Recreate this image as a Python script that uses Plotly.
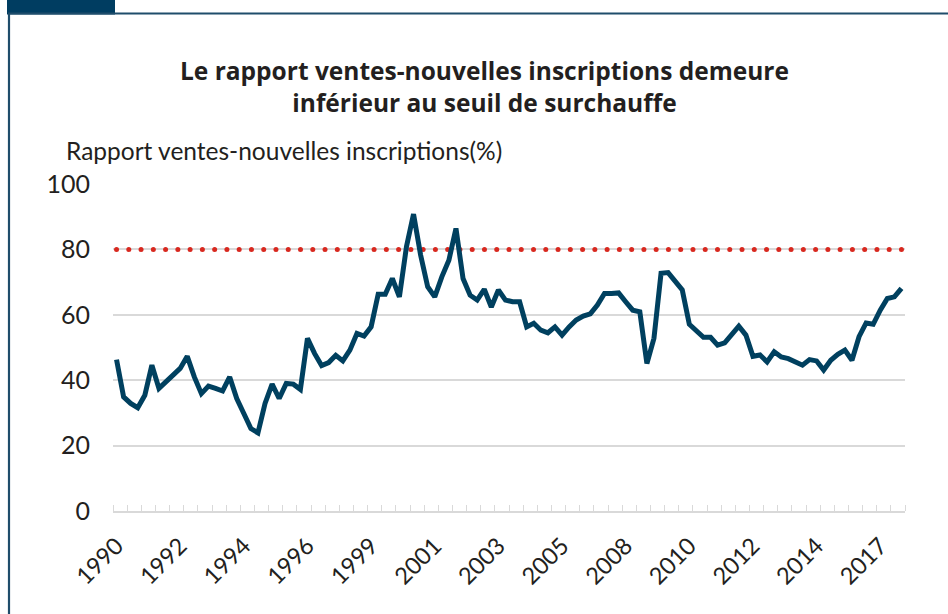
import numpy as np
import plotly.graph_objects as go

# ---- data -------------------------------------------------------------
quarters = [f"{1990 + i // 4}T{i % 4 + 1}" for i in range(112)]
ratio = [
    46.3, 34.9, 32.9, 31.6, 35.4, 44.6, 37.5, 39.5, 41.5, 43.6,
    47.3, 41.0, 35.9, 38.2, 37.5, 36.7, 41.0, 34.4, 29.8, 25.2,
    23.9, 32.9, 38.8, 34.4, 39.0, 38.8, 37.2, 52.8, 48.2, 44.5,
    45.4, 47.6, 45.9, 49.2, 54.3, 53.5, 56.3, 66.3, 66.3, 71.1,
    65.5, 80.8, 90.8, 78.3, 68.6, 65.5, 71.6, 76.7, 86.4, 71.1,
    66.0, 64.5, 67.8, 62.4, 67.6, 64.5, 64.0, 64.0, 56.3, 57.4,
    55.3, 54.5, 56.3, 53.8, 56.3, 58.4, 59.6, 60.3, 63.0, 66.5,
    66.5, 66.7, 64.0, 61.4, 60.9, 45.1, 52.8, 72.7, 72.9, 70.1,
    67.6, 57.1, 55.3, 53.1, 53.1, 50.7, 51.4, 53.8, 56.5, 53.8,
    47.3, 47.7, 45.6, 48.7, 47.1, 46.6, 45.6, 44.6, 46.3, 45.9,
    43.1, 46.1, 47.9, 49.2, 46.1, 53.3, 57.5, 57.1, 61.4, 65.0,
    65.5, 68.1,
]
threshold = 80
tick_labels = ["1990", "1992", "1994", "1996", "1999", "2001", "2003",
               "2005", "2008", "2010", "2012", "2014", "2017"]
label_every = 9
y_ticks = [0, 20, 40, 60, 80, 100]

title = "Le rapport ventes-nouvelles inscriptions demeure<br>inférieur au seuil de surchauffe"
y_title = "Rapport ventes-nouvelles inscriptions(%)"

# ---- figure -----------------------------------------------------------
W, H = 948, 614
L, R, T, B = 113, 43, 184, 103
FONT = "Lato"
TXT = "#231f20"
GRID = "#d9d9d9"
NAVY = "#00405f"

xi = list(range(len(quarters)))

fig = go.Figure()

# threshold dotted line
n_dots = 65
dot_x = np.linspace(0, len(quarters) - 1, n_dots)
fig.add_trace(go.Scatter(
    x=dot_x, y=[threshold] * n_dots, mode="markers",
    marker=dict(color="#d8281f", size=5, line=dict(width=0)),
    hoverinfo="skip", showlegend=False,
))

fig.add_trace(go.Scatter(
    x=xi, y=ratio, mode="lines", customdata=quarters,
    hovertemplate="%{customdata}: %{y:.1f}%<extra></extra>",
    line=dict(color=NAVY, width=5),
    showlegend=False,
))

tickvals = xi[::label_every][:len(tick_labels)]

fig.update_xaxes(
    range=[-0.5, len(quarters) - 0.5],
    tickmode="array", tickvals=tickvals, ticktext=tick_labels,
    tickangle=-45, ticks="", showgrid=False, zeroline=False,
    showline=True, linecolor=GRID, linewidth=1.5,
    ticklabelstandoff=10,
    tickfont=dict(family=FONT, size=23.5, color=TXT),
    minor=dict(tickmode="array",
               tickvals=[v - 0.5 for v in xi[::2]] + [len(quarters) - 0.5],
               ticks="inside", ticklen=6, tickcolor=GRID, tickwidth=1.3,
               showgrid=False),
    fixedrange=True,
)
fig.update_yaxes(
    range=[0, 100], tickmode="array", tickvals=y_ticks,
    showgrid=True, gridcolor=GRID, gridwidth=1.5,
    zeroline=False, showline=False, ticks="",
    ticklabelstandoff=22,
    tickfont=dict(family=FONT, size=25, color=TXT),
    fixedrange=True,
)

pw = W - L - R
ph = H - T - B


def px_x(p):
    return (p - L) / pw


def px_y(p):
    return (H - B - p) / ph


fig.add_annotation(
    text=y_title, xref="paper", yref="paper",
    x=px_x(64), y=px_y(151), xanchor="left", yanchor="middle",
    showarrow=False, font=dict(family=FONT, size=24.5, color=TXT),
)
fig.add_annotation(
    text="<b>" + title + "</b>", xref="paper", yref="paper",
    x=px_x(484), y=px_y(86.5), xanchor="center", yanchor="middle",
    showarrow=False, font=dict(family="Open Sans", size=24.5, color=TXT),
    align="center",
)

# frame and tab
fig.add_shape(type="rect", xref="paper", yref="paper",
              x0=px_x(7), x1=px_x(115), y0=px_y(14.5), y1=px_y(-5),
              fillcolor="#003d61", line=dict(width=0), layer="above")
fig.add_shape(type="line", xref="paper", yref="paper",
              x0=px_x(8), x1=px_x(960), y0=px_y(13.5), y1=px_y(13.5),
              line=dict(color="#1f4d6b", width=2.2))
fig.add_shape(type="line", xref="paper", yref="paper",
              x0=px_x(9), x1=px_x(9), y0=px_y(13.5), y1=px_y(630),
              line=dict(color="#1f4d6b", width=2.2))

fig.update_layout(
    width=W, height=H,
    margin=dict(l=L, r=R, t=T, b=B),
    paper_bgcolor="white", plot_bgcolor="white",
    font=dict(family=FONT, color=TXT),
    showlegend=False,
)

fig.write_html(
    "out.html",
    config={"displayModeBar": False},
    post_script="document.body.style.margin='0';document.body.style.overflow='hidden';",
)
